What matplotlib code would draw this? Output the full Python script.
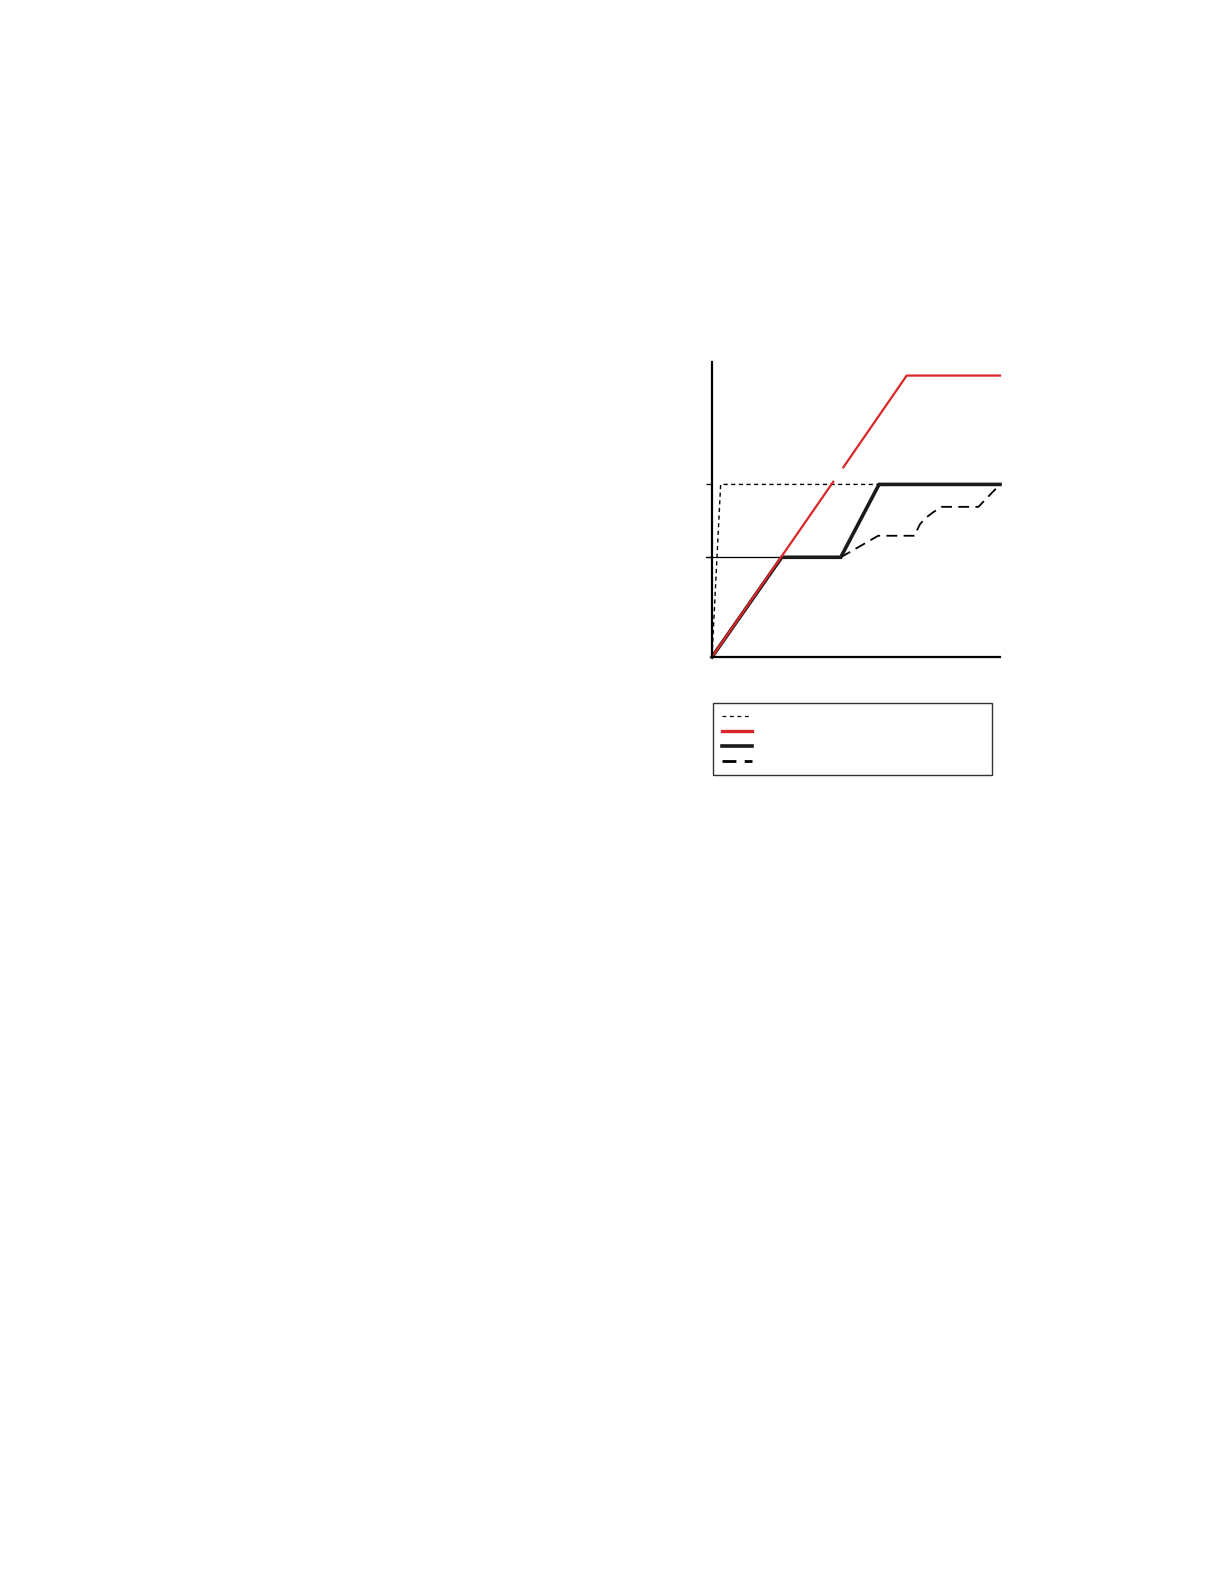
import matplotlib
matplotlib.use("Agg")
import matplotlib.pyplot as plt
from matplotlib.lines import Line2D

# ---- data (axis units: x 0..10, y 0..10) ----
level_low = 3.38
level_high = 5.85

# red line (drawn in two pieces with a small gap)
red_a_x = [0.0, 4.21]
red_a_y = [0.0, 5.94]
red_b_x = [4.56, 6.76, 10.0]
red_b_y = [6.43, 9.54, 9.54]

# thick black line
black_x = [0.0, 2.42, 4.47, 5.80, 10.0]
black_y = [0.0, 3.38, 3.38, 5.85, 5.85]

# long-dashed black line
dash_x = [4.47, 5.77, 7.05, 7.12, 7.22, 7.40, 7.70, 7.98, 9.25, 10.0]
dash_y = [3.38, 4.11, 4.11, 4.30, 4.50, 4.70, 4.92, 5.09, 5.09, 5.85]

# short-dashed thin line
dot_x = [0.0, 0.30, 5.80]
dot_y = [0.0, 5.85, 5.85]

# thin solid reference at lower level
ref_x = [-0.2, 2.42]
ref_y = [3.38, 3.38]

red = "#d9262a"

fig = plt.figure(figsize=(12.24, 15.84), dpi=100)
W, H = 1224, 1584
ax = fig.add_axes([712 / W, 1 - 657 / H, 288 / W, 295 / H])
ax.set_xlim(0, 10)
ax.set_ylim(0, 10)

ax.plot(dot_x, dot_y, color="black", lw=1.0, linestyle=(0, (3, 2.5)), clip_on=False)
ax.plot(ref_x, ref_y, color="black", lw=0.9, clip_on=False)
ax.plot(dash_x, dash_y, color="black", lw=1.3, linestyle=(0, (6, 3.5)), clip_on=False)
ax.plot(black_x, black_y, color="#1a1a1a", lw=2.6, solid_joinstyle="miter", clip_on=False)
ax.plot(red_a_x, red_a_y, color=red, lw=1.6, clip_on=False)
ax.plot(red_b_x, red_b_y, color=red, lw=1.6, clip_on=False)

for s in ["top", "right"]:
    ax.spines[s].set_visible(False)
for s in ["left", "bottom"]:
    ax.spines[s].set_linewidth(1.6)
ax.set_xticks([])
ax.set_yticks([level_low, level_high])
ax.set_yticklabels([])
ax.tick_params(axis="y", length=4, width=0.9, direction="out")

handles = [
    Line2D([], [], color="black", lw=0.9, linestyle=(0, (3, 3))),
    Line2D([], [], color=red, lw=2.4),
    Line2D([], [], color="#1a1a1a", lw=2.6),
    Line2D([], [], color="black", lw=2.0, linestyle=(0, (5, 3))),
]
leg = fig.legend(handles, ["", "", "", ""],
                 loc="upper left",
                 bbox_to_anchor=(713 / W, 1 - 703 / H, 279 / W, 0.0),
                 mode="expand", fontsize=7, handlelength=3.1,
                 labelspacing=0.5, borderpad=0.9, frameon=True,
                 fancybox=False, edgecolor="black", borderaxespad=0.0)
leg.get_frame().set_linewidth(1.0)

fig.savefig("out.png", dpi=100, facecolor="white")
